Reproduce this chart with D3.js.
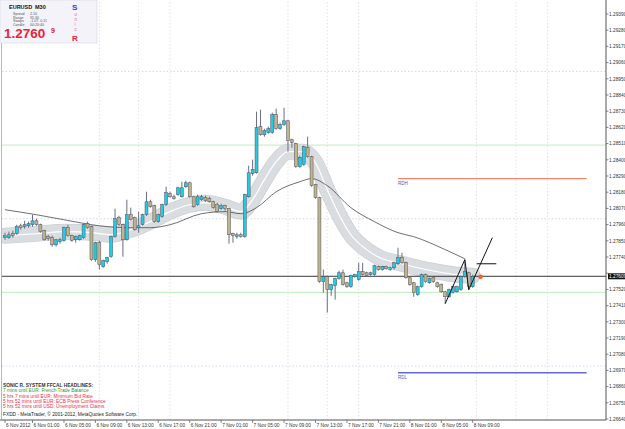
<!DOCTYPE html>
<html lang="en">
<head>
<meta charset="UTF-8">
<title>EURUSD M30</title>
<script src="https://d3js.org/d3.v7.min.js"></script>
<style>
  body { margin: 0; background: #fff; }
  svg text { font-family: "Liberation Sans", Arial, sans-serif; }
</style>
</head>
<body>
<div id="chart"></div>
<script>
// 30 min bars, 5 Nov 21:30 .. 8 Nov 09:00
var opens = [1.27871,1.27871,1.27898,1.27898,1.27952,1.27946,1.27952,1.27959,1.27986,1.27959,
  1.27919,1.27878,1.27871,1.27823,1.27844,1.27851,1.27939,1.27885,1.27857,1.27857,
  1.27871,1.27966,1.27946,1.27722,1.27837,1.27674,1.27708,1.27742,1.27878,1.28007,
  1.27959,1.27857,1.28027,1.28007,1.27939,1.27959,1.28027,1.28115,1.28088,1.27980,
  1.28014,1.28095,1.28170,1.28149,1.28163,1.28149,1.28217,1.28244,1.28149,1.28095,
  1.28129,1.28143,1.28136,1.28115,1.28095,1.28068,1.28088,1.28068,1.27898,1.27878,
  1.27891,1.27878,1.28149,1.28306,1.28312,1.28625,1.28570,1.28584,1.28584,1.28706,
  1.28611,1.28638,1.28665,1.28536,1.28509,1.28353,1.28367,1.28482,1.28421,1.28231,
  1.28143,1.27572,1.27606,1.27518,1.27545,1.27593,1.27633,1.27565,1.27538,1.27606,
  1.27586,1.27640,1.27633,1.27620,1.27620,1.27674,1.27654,1.27674,1.27654,1.27667,
  1.27694,1.27735,1.27701,1.27599,1.27565,1.27484,1.27538,1.27620,1.27565,1.27599,
  1.27565,1.27552,1.27504,1.27470,1.27498,1.27504,1.27518,1.27606,1.27633,1.27538];
var highs = [1.27905,1.27912,1.27919,1.27959,1.27966,1.27986,1.27980,1.28027,1.28000,1.27966,
  1.27925,1.27891,1.27885,1.27864,1.27871,1.27946,1.27959,1.27891,1.27885,1.27891,
  1.27966,1.27980,1.27952,1.27844,1.27851,1.27722,1.27742,1.27885,1.28068,1.28020,
  1.27966,1.28129,1.28075,1.28014,1.28048,1.28034,1.28183,1.28129,1.28095,1.28034,
  1.28102,1.28217,1.28183,1.28163,1.28217,1.28251,1.28258,1.28251,1.28156,1.28163,
  1.28163,1.28156,1.28149,1.28122,1.28109,1.28102,1.28095,1.28075,1.27905,1.27905,
  1.27905,1.28170,1.28360,1.28401,1.28727,1.28740,1.28611,1.28625,1.28720,1.28747,
  1.28652,1.28754,1.28672,1.28543,1.28516,1.28428,1.28496,1.28557,1.28428,1.28238,
  1.28149,1.27654,1.27613,1.27559,1.27599,1.27647,1.27654,1.27572,1.27620,1.27627,
  1.27701,1.27701,1.27640,1.27640,1.27688,1.27681,1.27681,1.27681,1.27674,1.27708,
  1.27803,1.27769,1.27708,1.27606,1.27572,1.27545,1.27627,1.27627,1.27599,1.27606,
  1.27572,1.27559,1.27511,1.27525,1.27545,1.27545,1.27613,1.27722,1.27640,1.27620];
var lows = [1.27857,1.27864,1.27871,1.27891,1.27925,1.27932,1.27939,1.27946,1.27952,1.27905,
  1.27851,1.27851,1.27810,1.27810,1.27830,1.27844,1.27878,1.27844,1.27837,1.27851,
  1.27864,1.27932,1.27715,1.27708,1.27654,1.27667,1.27694,1.27735,1.27871,1.27952,
  1.27742,1.27851,1.27986,1.27919,1.27905,1.27952,1.28020,1.28075,1.27973,1.27973,
  1.28007,1.28088,1.28143,1.28129,1.28156,1.28143,1.28210,1.28143,1.28075,1.28088,
  1.28122,1.28115,1.28109,1.28068,1.28041,1.28061,1.28054,1.27830,1.27837,1.27864,
  1.27871,1.27871,1.28143,1.28292,1.28306,1.28564,1.28557,1.28577,1.28577,1.28604,
  1.28604,1.28631,1.28455,1.28482,1.28346,1.28346,1.28360,1.28414,1.28217,1.28136,
  1.27565,1.27498,1.27362,1.27477,1.27450,1.27586,1.27545,1.27531,1.27531,1.27599,
  1.27579,1.27613,1.27606,1.27613,1.27613,1.27647,1.27647,1.27654,1.27647,1.27654,
  1.27688,1.27694,1.27593,1.27545,1.27470,1.27477,1.27531,1.27565,1.27559,1.27565,
  1.27531,1.27498,1.27423,1.27464,1.27491,1.27498,1.27511,1.27599,1.27518,1.27531];
var closes = [1.27885,1.27891,1.27885,1.27946,1.27939,1.27959,1.27966,1.27986,1.27959,1.27912,
  1.27857,1.27864,1.27823,1.27857,1.27857,1.27939,1.27885,1.27851,1.27878,1.27885,
  1.27959,1.27939,1.27722,1.27837,1.27688,1.27715,1.27735,1.27878,1.28000,1.27959,
  1.27857,1.28027,1.27993,1.27925,1.27952,1.28027,1.28115,1.28081,1.27980,1.28027,
  1.28095,1.28177,1.28149,1.28136,1.28210,1.28210,1.28244,1.28149,1.28081,1.28149,
  1.28149,1.28122,1.28115,1.28075,1.28048,1.28088,1.28068,1.27891,1.27885,1.27891,
  1.27878,1.28163,1.28312,1.28333,1.28618,1.28570,1.28598,1.28611,1.28706,1.28611,
  1.28638,1.28665,1.28530,1.28516,1.28353,1.28414,1.28489,1.28421,1.28224,1.28143,
  1.27572,1.27606,1.27518,1.27552,1.27593,1.27633,1.27552,1.27538,1.27613,1.27620,
  1.27640,1.27620,1.27613,1.27633,1.27681,1.27654,1.27674,1.27660,1.27667,1.27701,
  1.27735,1.27701,1.27599,1.27552,1.27498,1.27538,1.27620,1.27572,1.27593,1.27572,
  1.27538,1.27504,1.27470,1.27518,1.27538,1.27538,1.27606,1.27640,1.27538,1.27609];

// Sonic R dragon (EMA34) middle, read at some bars
var dragonBars = [0,8,15,22,27,32,37,42,47,51,56,60,63,66,69,72,76,79,82,85,88,92,96,100,105,110,115,119];
var dragonMid = [1.27885,1.27898,1.27912,1.27905,1.27891,1.27925,1.27980,1.28048,1.28095,1.28109,1.28081,1.28048,
  1.28129,1.28265,1.28387,1.28455,1.28455,1.28380,1.28197,1.28027,1.27891,1.27790,1.27728,1.27701,1.27667,1.27640,1.27620,1.27613];

// EMA89 trend line
var trendBars = [0,8,15,24,32,37,42,50,56,60,64,69,75,78,82,88,94,100,104,112,117];
var trendVal = [1.28061,1.28027,1.27993,1.27952,1.27939,1.27939,1.27959,1.28034,1.28048,1.28034,1.28075,1.28183,
  1.28251,1.28272,1.28224,1.28075,1.27980,1.27905,1.27878,1.27790,1.27728];

// zigzag + projection
var zigBars = [112,117,118,124];
var zigVal = [1.27423,1.27722,1.27518,1.27871];
var projBars = [120,125];
var projVal = 1.27694;

var priceTicks = [1.29390,1.29280,1.29170,1.29060,1.28950,1.28840,1.28730,1.28620,1.28510,1.28400,1.28290,1.28180,1.28070,
  1.27960,1.27850,1.27740,1.27630,1.27520,1.27410,1.27300,1.27190,1.27080,1.26970,1.26860,1.26750,1.26640];
var timeLabels = ["6 Nov 2012","6 Nov 01:00","6 Nov 05:00","6 Nov 09:00","6 Nov 13:00","6 Nov 17:00","6 Nov 21:00",
  "7 Nov 01:00","7 Nov 05:00","7 Nov 09:00","7 Nov 13:00","7 Nov 17:00","7 Nov 21:00","8 Nov 01:00","8 Nov 05:00","8 Nov 09:00"];
var timeBars = [0,7,15,23,31,39,47,55,63,71,79,87,95,103,111,119];
var sessionBars = [24,34,42,72,82,90,120,130,138];
var gridLevels = [1.29, 1.28, 1.27];
var greenLevels = [1.285, 1.275];
var rdh = 1.28272, rdl = 1.26954, rdBars = [100,148];
var bid = 1.27609;

var headlines = [
  {t: "SONIC R. SYSTEM  FFCAL HEADLINES:", c: "#333"},
  {t: "7 mins until EUR: French Trade Balance", c: "#2a9a2a"},
  {t: "5 hrs 7 mins until EUR: Minimum Bid Rate", c: "#e8304c"},
  {t: "5 hrs 52 mins until EUR: ECB Press Conference", c: "#e8304c"},
  {t: "5 hrs 52 mins until USD: Unemployment Claims", c: "#e8304c"}
];

var width = 625, height = 429;
var plotL = 2, plotR = 606, plotT = 2, plotB = 420;

var svg = d3.select("#chart").append("svg")
  .attr("width", width).attr("height", height);

var x = d3.scaleLinear().domain([0, 119]).range([5, 472.7]);
var y = d3.scaleLinear().domain([1.2664, 1.2939]).range([419, 14]);

svg.append("clipPath").attr("id", "plot")
  .append("rect").attr("x", plotL).attr("y", plotT).attr("width", plotR - plotL).attr("height", plotB - plotT);
var g = svg.append("g").attr("clip-path", "url(#plot)");

// grid
g.selectAll(".hgrid").data(gridLevels).enter().append("line")
  .attr("x1", plotL).attr("x2", plotR)
  .attr("y1", d => y(d)).attr("y2", d => y(d))
  .attr("stroke", "#c8ccf0").attr("stroke-dasharray", "1.5,2").attr("stroke-width", 0.8);
g.selectAll(".vgrid").data(sessionBars).enter().append("line")
  .attr("x1", d => x(d)).attr("x2", d => x(d))
  .attr("y1", plotT).attr("y2", plotB)
  .attr("stroke", "#d4d6e8").attr("stroke-dasharray", "1.5,2").attr("stroke-width", 0.7);
g.selectAll(".green").data(greenLevels).enter().append("line")
  .attr("x1", plotL).attr("x2", plotR)
  .attr("y1", d => y(d)).attr("y2", d => y(d))
  .attr("stroke", "#aee6ae").attr("stroke-width", 0.8);

// dragon band
var dline = d3.line().x(d => x(d[0])).y(d => y(d[1])).curve(d3.curveMonotoneX);
var dpts = dragonBars.map((b, i) => [b, dragonMid[i]]);
g.append("path").attr("d", dline(dpts)).attr("fill", "none")
  .attr("stroke", "#cdd0d4").attr("stroke-width", 16).attr("stroke-linecap", "round");
g.append("path").attr("d", dline(dpts)).attr("fill", "none")
  .attr("stroke", "#dadde0").attr("stroke-width", 14.4).attr("stroke-linecap", "round");
g.append("path").attr("d", dline(dpts)).attr("fill", "none")
  .attr("stroke", "#ffffff").attr("stroke-width", 1.2);

// trend EMA
g.append("path").attr("d", dline(trendBars.map((b, i) => [b, trendVal[i]])))
  .attr("fill", "none").attr("stroke", "#4a4a4a").attr("stroke-width", 0.8);

// bid line
g.append("line").attr("x1", plotL).attr("x2", plotR)
  .attr("y1", y(bid)).attr("y2", y(bid))
  .attr("stroke", "#222").attr("stroke-width", 0.9);

// candles
var bars = d3.range(opens.length);
g.selectAll(".wick").data(bars).enter().append("line")
  .attr("x1", i => x(i)).attr("x2", i => x(i))
  .attr("y1", i => y(highs[i])).attr("y2", i => y(lows[i]))
  .attr("stroke", "#6a6e82").attr("stroke-width", 1);
g.selectAll(".body").data(bars).enter().append("rect")
  .attr("x", i => x(i) - 1.5).attr("width", 3)
  .attr("y", i => y(Math.max(opens[i], closes[i])))
  .attr("height", i => Math.max(0.8, Math.abs(y(opens[i]) - y(closes[i]))))
  .attr("fill", i => closes[i] >= opens[i] ? "#22cbe2" : "#c0b48c")
  .attr("stroke", "#4c5064").attr("stroke-width", 0.5);

// RDH / RDL
g.append("line").attr("x1", x(rdBars[0])).attr("x2", x(rdBars[1]))
  .attr("y1", y(rdh)).attr("y2", y(rdh)).attr("stroke", "#f4876c").attr("stroke-width", 1.4);
g.append("line").attr("x1", x(rdBars[0])).attr("x2", x(rdBars[1]))
  .attr("y1", y(rdl)).attr("y2", y(rdl)).attr("stroke", "#6468dc").attr("stroke-width", 1.4);
g.append("text").attr("x", x(rdBars[0])).attr("y", y(rdh) + 6).text("RDH")
  .attr("font-size", 4.5).attr("fill", "#5458a8");
g.append("text").attr("x", x(rdBars[0])).attr("y", y(rdl) + 6).text("RDL")
  .attr("font-size", 4.5).attr("fill", "#5458a8");

// zigzag
g.append("path").attr("d", d3.line().x(d => x(d[0])).y(d => y(d[1]))(zigBars.map((b, i) => [b, zigVal[i]])))
  .attr("fill", "none").attr("stroke", "#111").attr("stroke-width", 1);
g.append("line").attr("x1", x(projBars[0])).attr("x2", x(projBars[1]))
  .attr("y1", y(projVal)).attr("y2", y(projVal)).attr("stroke", "#111").attr("stroke-width", 1);
g.append("circle").attr("cx", x(121)).attr("cy", y(1.27606)).attr("r", 2.3).attr("fill", "#f0602c");

// frame
svg.append("line").attr("x1", plotR).attr("x2", plotR).attr("y1", 0).attr("y2", plotB).attr("stroke", "#555").attr("stroke-width", 1);
svg.append("line").attr("x1", 0).attr("x2", plotR).attr("y1", plotB).attr("y2", plotB).attr("stroke", "#555").attr("stroke-width", 1);
svg.append("line").attr("x1", 1.5).attr("x2", 1.5).attr("y1", 0).attr("y2", plotB).attr("stroke", "#999").attr("stroke-width", 0.7);

// price axis
var pa = svg.append("g");
pa.selectAll("line").data(priceTicks).enter().append("line")
  .attr("x1", plotR).attr("x2", plotR + 2.5).attr("y1", d => y(d)).attr("y2", d => y(d))
  .attr("stroke", "#555").attr("stroke-width", 0.7);
pa.selectAll("text").data(priceTicks.filter(d => Math.abs(y(d) - y(bid)) > 5)).enter().append("text")
  .attr("x", plotR + 3).attr("y", d => y(d) + 1.8)
  .attr("font-size", 4.8).attr("fill", "#333").text(d => d.toFixed(5));
pa.append("rect").attr("x", plotR + 2).attr("y", y(bid) - 3).attr("width", 19).attr("height", 6).attr("fill", "#111");
pa.append("text").attr("x", plotR + 3).attr("y", y(bid) + 1.8).attr("font-size", 4.8)
  .attr("fill", "#fff").text(bid.toFixed(5));

// time axis
var ta = svg.append("g");
ta.selectAll("line").data(timeBars).enter().append("line")
  .attr("x1", d => x(d)).attr("x2", d => x(d)).attr("y1", plotB).attr("y2", plotB + 3)
  .attr("stroke", "#555").attr("stroke-width", 0.7);
ta.selectAll("text").data(timeBars).enter().append("text")
  .attr("x", d => x(d) + 1).attr("y", 426.5)
  .attr("font-size", 4.8).attr("fill", "#333").text((d, i) => timeLabels[i]);

// headlines
svg.selectAll(".hl").data(headlines).enter().append("text")
  .attr("x", 3).attr("y", (d, i) => 387 + i * 5.3)
  .attr("font-size", 4.8).attr("fill", d => d.c)
  .attr("font-weight", (d, i) => i === 0 ? "bold" : "normal").text(d => d.t);
svg.append("text").attr("x", 3).attr("y", 416).attr("font-size", 4.8).attr("fill", "#222")
  .text("FXDD - MetaTrader, \u00a9 2001-2012, MetaQuotes Software Corp.");

// info box
var box = svg.append("g");
box.append("rect").attr("x", 0).attr("y", 0).attr("width", 97).attr("height", 43)
  .attr("fill", "#f3f3f9").attr("stroke", "#d6d6e2").attr("stroke-width", 0.6);
box.append("text").attr("x", 9).attr("y", 9).attr("font-size", 5.5).attr("font-weight", "bold").attr("fill", "#111").text("EURUSD");
box.append("text").attr("x", 35).attr("y", 9).attr("font-size", 5.5).attr("font-weight", "bold").attr("fill", "#111").text("M30");
var info = [["Spread", "2.10"], ["Range", "95.30"], ["Swaps", "-1.07, 0.11"], ["Candle", "00:20:40"]];
info.forEach(function(r, i) {
  box.append("text").attr("x", 13).attr("y", 15 + i * 3.6).attr("font-size", 3.6).attr("fill", "#555").text(r[0]);
  box.append("text").attr("x", 30).attr("y", 15 + i * 3.6).attr("font-size", 3.6).attr("fill", "#555").text(r[1]);
});
box.append("text").attr("x", 4).attr("y", 38).attr("font-size", 13.5).attr("font-weight", "bold").attr("fill", "#e8243c").text("1.2760");
box.append("text").attr("x", 51).attr("y", 33).attr("font-size", 7).attr("font-weight", "bold").attr("fill", "#c82030").text("9");
box.append("text").attr("x", 72).attr("y", 10).attr("font-size", 8).attr("font-weight", "bold").attr("fill", "#2a3ee0").text("S");
["o", "n", "i", "c"].forEach(function(c, i) {
  box.append("text").attr("x", 74.5).attr("y", 16 + i * 5).attr("font-size", 4.5).attr("fill", "#e070a8").text(c);
});
box.append("text").attr("x", 72).attr("y", 41).attr("font-size", 8).attr("font-weight", "bold").attr("fill", "#e02040").text("R");
</script>
</body>
</html>
